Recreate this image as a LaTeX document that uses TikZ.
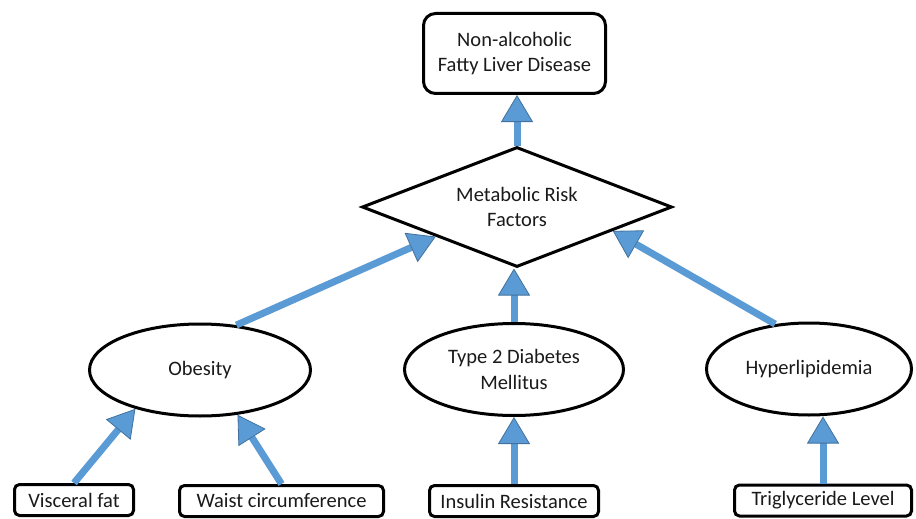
\documentclass[tikz,border=0pt]{standalone}
\usepackage{fontspec}
\setmainfont{Carlito}
\usetikzlibrary{arrows.meta,shapes.geometric}
\definecolor{arrowblue}{HTML}{5B9BD5}
\definecolor{arrowedge}{HTML}{41719C}
\definecolor{txt}{HTML}{1A1A1A}
\begin{document}
\begin{tikzpicture}[x=1pt,y=-1pt,
  font=\fontsize{20.5}{25.5}\selectfont,
  every node/.style={text=txt},
  box/.style={draw=black, line width=3pt, rounded corners=12pt, align=center, inner sep=0pt},
  smallbox/.style={draw=black, line width=3pt, rounded corners=5pt, inner sep=0pt, minimum height=31pt},
  oval/.style={draw=black, ellipse, line width=3pt, align=center, inner sep=0pt},
  dia/.style={draw=black, diamond, line width=3pt, align=center, inner sep=0pt, aspect=2.5},
  link/.style={draw=arrowblue, line width=7pt, -{Triangle[length=27pt,width=32pt,line width=0.8pt,color=arrowedge,fill=arrowblue]}}]
\useasboundingbox (0,0) rectangle (916,519);
\node[box, minimum width=182pt, minimum height=80pt] (top) at (514.5,53.5) {Non-alcoholic\\Fatty Liver Disease};
\node[dia, minimum width=310pt, minimum height=120pt] (mrf) at (517,207) {Metabolic Risk\\Factors};
\node[oval, minimum width=221pt, minimum height=92pt] (obe) at (200,370) {\raisebox{-2pt}{Obesity}};
\node[oval, minimum width=219pt, minimum height=92pt] (t2d) at (514,369.5) {Type 2 Diabetes\\Mellitus};
\node[oval, minimum width=205pt, minimum height=92pt] (hyp) at (809,369) {\raisebox{-2pt}{Hyperlipidemia}};
\node[smallbox, minimum width=119pt] (vis) at (74,500) {Visceral fat};
\node[smallbox, minimum width=204pt] (wst) at (281.5,501) {Waist circumference};
\node[smallbox, minimum width=169pt] (ins) at (514,501) {Insulin Resistance};
\node[smallbox, minimum width=177pt] (tri) at (823,500.5) {Triglyceride Level};
\draw[link] (mrf.north) -- (mrf.north |- top.south);
\draw[link] (obe.51) -- (mrf.200);
\draw[link] (t2d.north) -- (t2d.north |- mrf.south);
\draw[link] (hyp.127) -- (mrf.346);
\draw[link] (vis.north) -- (obe.211);
\draw[link] (wst.north) -- (obe.310);
\draw[link] (ins.north) -- (ins.north |- t2d.south);
\draw[link] (tri.north) -- (tri.north |- hyp.south);
\end{tikzpicture}
\end{document}
